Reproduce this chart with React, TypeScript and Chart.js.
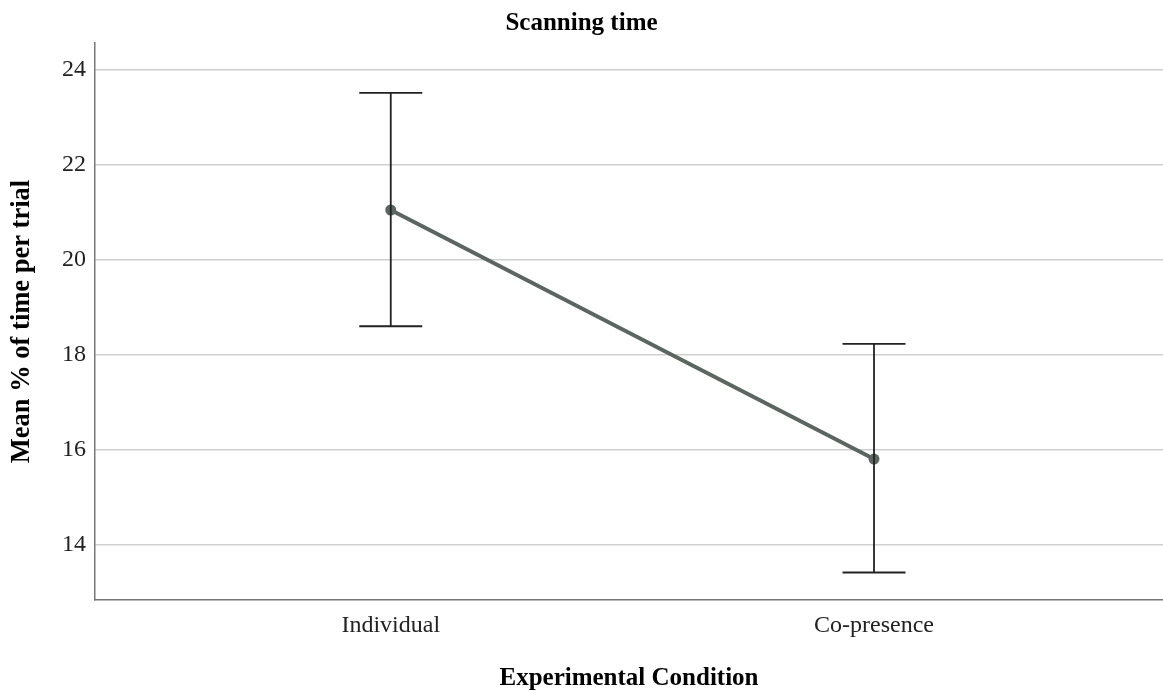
import React, { useEffect, useRef } from "react";
import { Chart, registerables } from "chart.js";

Chart.register(...registerables);

const categories = ["Individual", "Co-presence"];
const means = [21.05, 15.8];
const lowerCI = [18.6, 13.41];
const upperCI = [23.52, 18.23];
const yTicks = [14, 16, 18, 20, 22, 24];

const FONT = "'Liberation Serif', 'Times New Roman', serif";

const errorBarPlugin = {
  id: "errorBars",
  afterDatasetsDraw(chart: any) {
    const { ctx, scales } = chart;
    const xs = scales.x;
    const ys = scales.y;
    ctx.save();
    ctx.strokeStyle = "#222222";
    ctx.lineWidth = 1.8;
    categories.forEach((_, i) => {
      const x = xs.getPixelForValue(i);
      const yt = ys.getPixelForValue(upperCI[i]);
      const yb = ys.getPixelForValue(lowerCI[i]);
      const half = 31.5;
      ctx.beginPath();
      ctx.moveTo(x, yt);
      ctx.lineTo(x, yb);
      ctx.moveTo(x - half, yt);
      ctx.lineTo(x + half, yt);
      ctx.moveTo(x - half, yb);
      ctx.lineTo(x + half, yb);
      ctx.stroke();
    });
    ctx.restore();
  },
};

export default function App() {
  const ref = useRef<HTMLCanvasElement | null>(null);
  useEffect(() => {
    if (!ref.current) return;
    const chart = new Chart(ref.current, {
      type: "scatter",
      data: {
        datasets: [
          {
            data: means.map((m, i) => ({ x: i, y: m })),
            showLine: true,
            borderColor: "#5b6660",
            backgroundColor: "#5b6660",
            borderWidth: 4,
            pointRadius: 5.5,
            pointBorderWidth: 0,
          },
        ],
      },
      options: {
        animation: false,
        responsive: false,
        layout: { autoPadding: false, padding: { left: 0, right: 0, top: 0, bottom: 0 } },
        plugins: {
          legend: { display: false },
          tooltip: { enabled: false },
          title: {
            display: true,
            text: "Scanning time",
            color: "#000",
            font: { family: FONT, size: 25, weight: "bold" },
            padding: { top: 9, bottom: 4 },
          },
        },
        scales: {
          x: {
            type: "linear",
            min: -0.612,
            max: 1.598,
            afterFit: (s: any) => {
              s.height = 91;
              s.paddingLeft = 0;
              s.paddingRight = 0;
            },
            afterBuildTicks: (s: any) => {
              s.ticks = categories.map((_, i) => ({ value: i }));
            },
            ticks: {
              callback: (v: any) => categories[v] ?? "",
              color: "#222",
              font: { family: FONT, size: 24 },
              padding: 11,
              autoSkip: false,
              maxRotation: 0,
            },
            grid: { display: false, drawTicks: false },
            border: { display: true, color: "#777", width: 1.5 },
            title: {
              display: true,
              text: "Experimental Condition",
              color: "#000",
              font: { family: FONT, size: 25, weight: "bold", lineHeight: 1.0 },
              padding: { top: 0, bottom: 0 },
            },
          },
          y: {
            type: "linear",
            min: 12.83,
            max: 24.57,
            afterFit: (s: any) => {
              s.width = 95;
              s.paddingTop = 0;
              s.paddingBottom = 0;
            },
            afterBuildTicks: (s: any) => {
              s.ticks = yTicks.map((v) => ({ value: v }));
            },
            ticks: {
              color: "#222",
              font: { family: FONT, size: 24 },
              padding: 9,
            },
            grid: { color: "#cfcfcf", lineWidth: 1.6, drawTicks: false },
            border: { display: true, color: "#777", width: 1.5 },
            title: {
              display: true,
              text: "Mean % of time per trial",
              color: "#000",
              font: { family: FONT, size: 26.5, weight: "bold" },
              padding: { top: 6, bottom: 0 },
            },
          },
        },
      },
      plugins: [errorBarPlugin],
    } as any);
    return () => chart.destroy();
  }, []);
  return (
    <div style={{ position: "fixed", left: 0, top: 0, width: 1163, height: 691, background: "#fff" }}>
      <canvas ref={ref} width={1163} height={691} style={{ width: 1163, height: 691 }} />
    </div>
  );
}
